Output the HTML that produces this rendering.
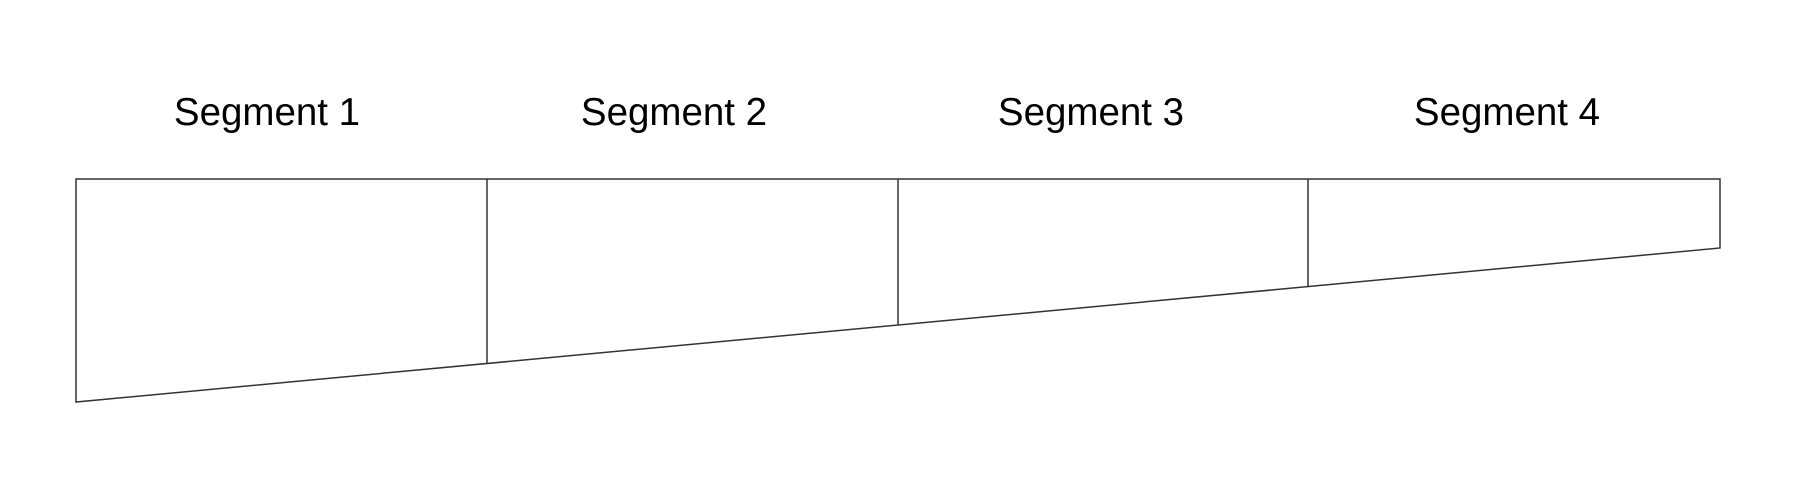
<!DOCTYPE html>
<html><head><style>html,body{margin:0;padding:0;background:#fff;}svg{display:block;}</style></head>
<body>
<svg width="1812" height="483" viewBox="0 0 1812 483" xmlns="http://www.w3.org/2000/svg">
<g font-family="Liberation Sans, Arial, sans-serif" font-size="38.5" fill="#000" text-anchor="middle">
<text x="267" y="125">Segment 1</text>
<text x="674" y="125">Segment 2</text>
<text x="1091" y="125">Segment 3</text>
<text x="1507" y="125">Segment 4</text>
</g>
<g stroke="#333" stroke-width="1.5" fill="none">
<polygon points="76,179 1720,179 1720,248 76,402"/>
<line x1="487" y1="179" x2="487" y2="364"/>
<line x1="898" y1="179" x2="898" y2="325.5"/>
<line x1="1308" y1="179" x2="1308" y2="287"/>
</g>
</svg>
</body></html>
